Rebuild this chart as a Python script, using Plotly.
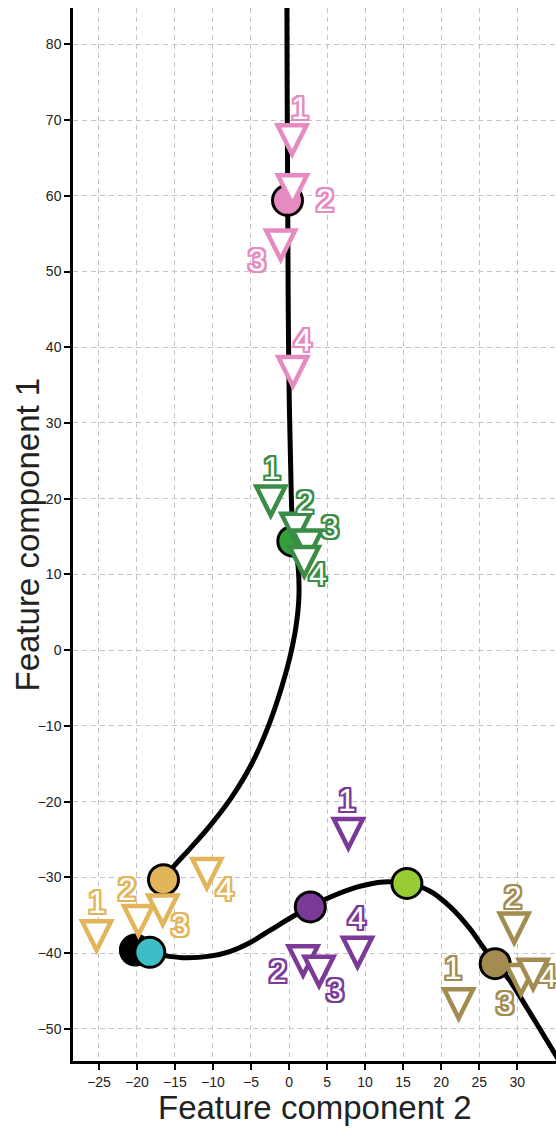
import plotly.graph_objects as go

# Trajectory curves (feature component 2 on x, feature component 1 on y)
curve_a_x = [-0.28, -0.25, -0.2, -0.15, -0.1, 0.0, 0.2, 0.5, 1.2, 1.3, 0.9, 0.1, -1.0, -2.7, -4.9, -7.6, -10.4, -13.1, -15.2, -16.5]
curve_a_y = [86.0, 75.0, 65.0, 55.0, 45.0, 35.0, 25.0, 16.0, 11.0, 7.0, 3.0, -1.0, -5.0, -10.0, -15.0, -19.5, -23.2, -26.3, -28.6, -30.3]

curve_b_x = [-20.2, -18.3, -16.5, -14.0, -10.4, -7.8, -5.1, -2.5, 0.6, 2.8, 5.0, 8.9, 12.4, 15.5, 18.5, 21.2, 23.8, 25.5, 27.2, 29.0, 31.2, 34.3, 35.6]
curve_b_y = [-39.6, -39.9, -40.3, -40.6, -40.4, -39.8, -38.6, -37.0, -35.1, -33.9, -32.8, -31.3, -30.6, -30.8, -31.8, -33.9, -36.8, -39.2, -41.4, -43.6, -47.1, -52.2, -54.4]

# Cluster centres
centre_names = ["black", "cyan", "tan", "purple", "lime", "olive", "green", "pink"]
centre_x = [-20.2, -18.3, -16.5, 2.8, 15.5, 27.1, 0.5, -0.2]
centre_y = [-39.6, -39.9, -30.3, -33.9, -30.8, -41.4, 14.4, 59.4]
centre_fill = ["#000000", "#3DBDC6", "#E2B55A", "#7B3A98", "#99CC33", "#A38C52", "#34A03A", "#E68AC2"]

# Samples per cluster (numbered 1-4)
sample_ids = ["1", "2", "3", "4"]

pink_x = [0.4, 0.45, -1.1, 0.5]
pink_y = [67.4, 60.8, 53.5, 36.8]
pink_lx = [1.45, 4.7, -4.2, 1.9]
pink_ly = [71.6, 59.4, 51.5, 41.0]

green_x = [-2.4, 0.9, 2.4, 2.0]
green_y = [19.7, 16.1, 13.9, 11.7]
green_lx = [-2.3, 2.1, 5.4, 3.85]
green_ly = [24.0, 19.6, 16.3, 10.1]

tan_x = [-25.3, -19.8, -16.6, -10.8]
tan_y = [-37.7, -35.7, -34.3, -29.5]
tan_lx = [-25.3, -21.3, -14.3, -8.4]
tan_ly = [-33.2, -31.5, -36.3, -31.5]

purple_x = [7.8, 1.85, 3.95, 9.0]
purple_y = [-24.2, -41.0, -42.4, -39.9]
purple_lx = [7.6, -1.4, 6.0, 8.9]
purple_ly = [-19.8, -42.3, -44.9, -35.4]

olive_x = [22.3, 29.6, 30.5, 32.1]
olive_y = [-46.7, -36.7, -43.5, -42.8]
olive_lx = [21.6, 29.4, 28.4, 34.0]
olive_ly = [-42.0, -32.6, -46.6, -43.0]

groups = [
    ("pink", "#E68AC2", pink_x, pink_y, pink_lx, pink_ly),
    ("green", "#3B8C46", green_x, green_y, green_lx, green_ly),
    ("tan", "#E2B55A", tan_x, tan_y, tan_lx, tan_ly),
    ("purple", "#7B3A98", purple_x, purple_y, purple_lx, purple_ly),
    ("olive", "#A38C52", olive_x, olive_y, olive_lx, olive_ly),
]

x_ticks = [-25, -20, -15, -10, -5, 0, 5, 10, 15, 20, 25, 30]
y_ticks = [-50, -40, -30, -20, -10, 0, 10, 20, 30, 40, 50, 60, 70, 80]

HALF = 14.5  # half width / half height of the triangle markers, px
FONT = "Liberation Sans, Arial, sans-serif"
TRIANGLE_DOWN = f"M{-HALF},{HALF} L{HALF},{HALF} L0,{-HALF} Z"
TITLE_FONT = dict(family=FONT, size=33, color="#222222")


def outline(color, d=2.2):
    offs = [(-d, -d), (d, -d), (-d, d), (d, d), (0, d), (0, -d), (d, 0), (-d, 0)]
    return ", ".join(f"{ox}px {oy}px 0 {color}" for ox, oy in offs)


fig = go.Figure()

for cx, cy in [(curve_a_x, curve_a_y), (curve_b_x, curve_b_y)]:
    fig.add_trace(go.Scatter(
        x=cx, y=cy, mode="lines",
        line=dict(color="black", width=5, shape="spline", smoothing=1.0),
        hoverinfo="skip", showlegend=False,
    ))

fig.add_trace(go.Scatter(
    x=centre_x, y=centre_y, mode="markers", text=centre_names,
    marker=dict(size=30, color=centre_fill, line=dict(color="black", width=3)),
    showlegend=False,
))

# Open down-pointing triangles, equal width and height, centred on each sample
for name, color, gx, gy, lx, ly in groups:
    for px, py in zip(gx, gy):
        fig.add_shape(
            type="path", path=TRIANGLE_DOWN,
            xref="x", yref="y", xsizemode="pixel", ysizemode="pixel",
            xanchor=px, yanchor=py,
            fillcolor="white", line=dict(color=color, width=4.5),
            layer="above",
        )

# Sample numbers: white digits with a coloured outline
for name, color, gx, gy, lx, ly in groups:
    for sid, tx, ty in zip(sample_ids, lx, ly):
        fig.add_annotation(
            x=tx, y=ty, text=sid, showarrow=False,
            xanchor="center", yanchor="middle",
            font=dict(family=FONT, size=32, color="white", shadow=outline(color)),
        )

# Axis titles
fig.add_annotation(
    text="Feature component 2", xref="paper", yref="paper", x=0.5, y=0,
    xanchor="center", yanchor="middle", yshift=-46, showarrow=False, font=TITLE_FONT,
)
fig.add_annotation(
    text="Feature component 1", xref="paper", yref="paper", x=0, y=0.5,
    xanchor="center", yanchor="middle", xshift=-46, textangle=-90, showarrow=False, font=TITLE_FONT,
)

axis_common = dict(
    showline=True, linecolor="black", linewidth=2.5,
    ticks="outside", ticklen=6, tickwidth=1.5, tickcolor="black",
    tickfont=dict(family=FONT, size=14, color="#222222"),
    showgrid=True, gridcolor="#c4c4c4", gridwidth=1, griddash="5px,4px",
    zeroline=False, mirror=False,
)

fig.update_xaxes(range=[-28.4, 35.1], tickvals=x_ticks, **axis_common)
fig.update_yaxes(range=[-54.25, 84.8], tickvals=y_ticks, **axis_common)

fig.update_layout(
    width=556, height=1130,
    margin=dict(l=73, r=0, t=8, b=69),
    paper_bgcolor="white", plot_bgcolor="white",
    showlegend=False,
)

fig.write_html("out.html")
